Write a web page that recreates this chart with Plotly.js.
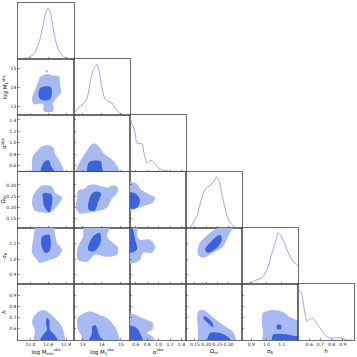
<!DOCTYPE html>
<html>
<head>
<meta charset="utf-8">
<script src="https://cdn.plot.ly/plotly-3.0.1.min.js"></script>
<style>
  html, body { margin: 0; padding: 0; background: #fff; }
  #plot { width: 357px; height: 357px; }
</style>
</head>
<body>
<div id="plot"></div>
<script>
// parameter labels, axis ranges and ticks
const paramLabels = ['log M<sub>min</sub><sup>obs</sup>', 'log M<sub>1</sub><sup>obs</sup>', 'α<sup>obs</sup>', 'Ω<sub>m</sub>', 'σ<sub>8</sub>', '<i>h</i>'];
const axisRanges = [[11.72, 12.98], [12.55, 15.47], [0.5, 1.48], [0.11, 0.36], [0.84, 1.205], [0.5, 1.0]];
const tickVals = [[12.0, 12.4, 12.8], [13, 14, 15], [0.6, 0.8, 1.0, 1.2, 1.4], [0.15, 0.20, 0.25, 0.30], [0.9, 1.0, 1.1], [0.6, 0.7, 0.8, 0.9]];
const tickFormats = ['.1f', 'd', '.1f', '.2f', '.1f', '.1f'];

// 1D marginal densities (normalised)
const diagX0 = [11.72, 11.83, 11.945, 12.06, 12.13, 12.21, 12.28, 12.34, 12.395, 12.43, 12.485, 12.545, 12.62, 12.71, 12.81, 12.96];
const diagY0 = [0, 0, 0.03, 0.09, 0.18, 0.38, 0.65, 0.89, 1.0, 0.96, 0.74, 0.44, 0.21, 0.08, 0.02, 0];
const diagX1 = [12.55, 12.76, 13.02, 13.23, 13.38, 13.54, 13.75, 13.85, 14.01, 14.17, 14.32, 14.53, 14.69, 14.95, 15.21, 15.36];
const diagY1 = [0.03, 0.14, 0.22, 0.34, 0.62, 0.88, 1.0, 0.88, 0.54, 0.32, 0.28, 0.24, 0.14, 0.04, 0, 0];
const diagX2 = [0.5, 0.535, 0.59, 0.62, 0.71, 0.745, 0.80, 0.85, 0.885, 0.94, 1.025, 1.15, 1.25, 1.48];
const diagY2 = [1.04, 0.94, 0.76, 0.56, 0.54, 0.36, 0.17, 0.21, 0.21, 0.15, 0.05, 0.01, 0, 0];
const diagX3 = [0.128, 0.158, 0.18, 0.195, 0.214, 0.232, 0.247, 0.257, 0.269, 0.284, 0.303, 0.329];
const diagY3 = [0, 0.22, 0.58, 0.75, 0.82, 0.89, 0.99, 0.93, 0.68, 0.39, 0.12, 0.01];
const diagX4 = [0.84, 0.892, 0.938, 0.97, 1.003, 1.036, 1.062, 1.075, 1.101, 1.133, 1.166, 1.199, 1.205];
const diagY4 = [0, 0.02, 0.08, 0.12, 0.28, 0.61, 0.86, 1.0, 0.90, 0.67, 0.47, 0.37, 0.35];
const diagX5 = [0.5, 0.527, 0.545, 0.5625, 0.58, 0.607, 0.634, 0.661, 0.696, 0.741, 0.786, 0.848, 0.893, 0.938, 0.982];
const diagY5 = [1.0, 0.94, 0.75, 0.53, 0.37, 0.41, 0.43, 0.35, 0.24, 0.10, 0.04, 0.04, 0.04, 0, 0];

// 2D credible regions, [x, y] outline points (outer = 95%, inner = 68%)
const m1_mmin_outer = [[12.215, 14.53], [12.35, 14.69], [12.485, 14.64], [12.64, 14.58], [12.665, 14.17], [12.69, 13.75], [12.60, 13.49], [12.51, 13.18], [12.51, 12.76], [12.305, 12.76], [12.28, 13.13], [12.08, 13.13], [12.035, 13.44], [12.10, 13.85], [12.17, 14.27]];
const m1_mmin_inner = [[12.215, 13.96], [12.37, 14.06], [12.46, 14.01], [12.485, 13.70], [12.44, 13.39], [12.28, 13.33], [12.19, 13.49]];

const al_mmin_outer = [[12.08, 0.43], [12.035, 0.64], [12.06, 0.78], [12.17, 0.87], [12.26, 0.94], [12.44, 0.955], [12.53, 0.90], [12.55, 0.815], [12.62, 0.73], [12.71, 0.605], [12.755, 0.43]];
const al_mmin_inner = [[12.24, 0.43], [12.26, 0.605], [12.35, 0.69], [12.42, 0.69], [12.46, 0.605], [12.575, 0.43]];

const om_mmin_outer = [[12.26, 0.298], [12.485, 0.293], [12.55, 0.266], [12.71, 0.244], [12.665, 0.222], [12.55, 0.195], [12.44, 0.177], [12.28, 0.177], [12.10, 0.186], [12.035, 0.217], [12.06, 0.253], [12.17, 0.284]];
const om_mmin_inner = [[12.28, 0.262], [12.44, 0.262], [12.485, 0.253], [12.485, 0.217], [12.42, 0.177], [12.37, 0.186], [12.305, 0.208], [12.28, 0.24]];

const s8_mmin_outer = [[12.15, 1.225], [12.51, 1.225], [12.55, 1.172], [12.60, 1.107], [12.71, 1.062], [12.62, 1.016], [12.44, 0.996], [12.33, 0.983], [12.19, 0.977], [12.15, 0.996], [12.035, 1.042], [12.06, 1.127]];
const s8_mmin_inner = [[12.26, 1.146], [12.42, 1.159], [12.46, 1.107], [12.42, 1.049], [12.33, 1.042], [12.26, 1.075], [12.24, 1.114]];

const h_mmin_outer = [[12.035, 0.652], [12.06, 0.696], [12.17, 0.75], [12.28, 0.768], [12.395, 0.75], [12.55, 0.696], [12.71, 0.616], [12.755, 0.455], [12.08, 0.455], [12.10, 0.589]];
const h_mmin_inner = [[12.37, 0.696], [12.42, 0.679], [12.44, 0.589], [12.55, 0.545], [12.64, 0.455], [12.19, 0.455], [12.28, 0.545], [12.37, 0.589], [12.35, 0.652]];

const al_m1_outer = [[12.60, 0.43], [12.76, 0.605], [13.12, 0.815], [13.54, 0.99], [13.80, 0.955], [14.06, 0.83], [14.58, 0.69], [14.84, 0.57], [14.95, 0.43]];
const al_m1_inner = [[13.28, 0.43], [13.33, 0.66], [13.75, 0.69], [13.96, 0.675], [14.01, 0.57], [14.06, 0.43]];

const om_m1_outer = [[12.71, 0.24], [12.76, 0.275], [13.12, 0.284], [13.28, 0.298], [13.64, 0.302], [14.01, 0.293], [14.27, 0.289], [14.58, 0.298], [14.84, 0.289], [14.79, 0.262], [14.53, 0.24], [14.27, 0.199], [13.90, 0.186], [13.38, 0.177], [12.86, 0.173], [12.65, 0.195]];
const om_m1_inner = [[13.38, 0.244], [13.54, 0.266], [13.80, 0.271], [13.96, 0.262], [13.80, 0.222], [13.64, 0.186], [13.38, 0.186], [13.28, 0.199]];

const s8_m1_outer = [[13.12, 1.225], [14.43, 1.225], [14.27, 1.146], [14.58, 1.107], [14.84, 1.075], [14.79, 1.029], [14.17, 1.016], [13.64, 1.029], [13.23, 0.983], [12.76, 0.996], [12.71, 1.062], [12.86, 1.107], [13.02, 1.146]];
const s8_m1_inner = [[13.28, 1.062], [13.38, 1.114], [13.64, 1.159], [13.90, 1.172], [13.96, 1.127], [13.80, 1.075], [13.54, 1.049]];

const h_m1_outer = [[12.71, 0.679], [12.76, 0.705], [13.23, 0.75], [13.54, 0.75], [13.90, 0.723], [14.27, 0.696], [14.69, 0.616], [14.84, 0.562], [14.89, 0.455], [12.86, 0.455], [12.97, 0.527], [12.76, 0.589]];
const h_m1_inner = [[13.49, 0.616], [13.64, 0.634], [13.75, 0.607], [13.90, 0.527], [14.43, 0.455], [13.28, 0.455], [13.49, 0.562]];

const om_al_outer = [[0.43, 0.311], [0.62, 0.306], [0.675, 0.284], [0.80, 0.262], [0.94, 0.244], [0.90, 0.222], [0.76, 0.208], [0.64, 0.199], [0.52, 0.186], [0.43, 0.186]];
const om_al_inner = [[0.43, 0.266], [0.59, 0.262], [0.675, 0.235], [0.62, 0.199], [0.43, 0.199]];

const s8_al_outer = [[0.43, 1.225], [0.64, 1.225], [0.62, 1.159], [0.675, 1.127], [0.85, 1.127], [0.94, 1.081], [0.885, 1.042], [0.73, 1.042], [0.675, 0.996], [0.59, 0.977], [0.43, 0.977]];
const s8_al_inner = [[0.43, 1.22], [0.52, 1.22], [0.59, 1.127], [0.62, 1.062], [0.43, 1.042]];

const h_al_outer = [[0.43, 0.723], [0.55, 0.732], [0.675, 0.705], [0.80, 0.679], [0.90, 0.652], [0.90, 0.598], [0.80, 0.562], [0.90, 0.527], [0.94, 0.455], [0.43, 0.455]];
const h_al_inner = [[0.43, 0.625], [0.59, 0.616], [0.675, 0.562], [0.73, 0.455], [0.43, 0.455]];

const s8_om_outer = [[0.1635, 1.075], [0.172, 1.107], [0.217, 1.172], [0.253, 1.205], [0.284, 1.225], [0.324, 1.225], [0.297, 1.146], [0.275, 1.081], [0.23, 1.042], [0.186, 1.009], [0.1635, 1.029]];
const s8_om_inner = [[0.195, 1.062], [0.23, 1.127], [0.262, 1.159], [0.27, 1.127], [0.248, 1.075], [0.208, 1.042]];

const h_om_outer = [[0.1635, 0.75], [0.186, 0.768], [0.23, 0.705], [0.275, 0.634], [0.32, 0.571], [0.333, 0.455], [0.172, 0.455], [0.1635, 0.589]];
const h_om_innerA = [[0.19, 0.714], [0.208, 0.696], [0.23, 0.643], [0.23, 0.616], [0.2125, 0.643], [0.19, 0.687]];
const h_om_innerB = [[0.208, 0.455], [0.217, 0.562], [0.262, 0.562], [0.297, 0.527], [0.32, 0.455]];

const h_s8_outer = [[0.97, 0.652], [0.977, 0.741], [1.042, 0.768], [1.107, 0.75], [1.153, 0.705], [1.199, 0.679], [1.23, 0.679], [1.23, 0.455], [0.977, 0.455], [0.977, 0.562]];
const h_s8_innerA = [[1.068, 0.634], [1.094, 0.634], [1.094, 0.598], [1.068, 0.598]];
const h_s8_innerB = [[1.042, 0.455], [1.042, 0.545], [1.107, 0.554], [1.186, 0.536], [1.23, 0.527], [1.23, 0.455]];

// isolated small islands: [row, col, x, y, level]
const islands = [[1, 0, 12.37, 14.84, 'outer'], [2, 0, 12.215, 0.306, 'outer'], [3, 1, 14.01, 0.931, 'outer'], [4, 1, 13.64, 0.84, 'outer'], [4, 2, 0.675, 0.634, 'inner'], [4, 3, 0.181, 0.84, 'outer']];

const diagX = [diagX0, diagX1, diagX2, diagX3, diagX4, diagX5];
const diagY = [diagY0, diagY1, diagY2, diagY3, diagY4, diagY5];

const regions = [
    { row: 1, col: 0, outer: [m1_mmin_outer], inner: [m1_mmin_inner] },
    { row: 2, col: 0, outer: [al_mmin_outer], inner: [al_mmin_inner] },
    { row: 3, col: 0, outer: [om_mmin_outer], inner: [om_mmin_inner] },
    { row: 4, col: 0, outer: [s8_mmin_outer], inner: [s8_mmin_inner] },
    { row: 5, col: 0, outer: [h_mmin_outer], inner: [h_mmin_inner] },
    { row: 2, col: 1, outer: [al_m1_outer], inner: [al_m1_inner] },
    { row: 3, col: 1, outer: [om_m1_outer], inner: [om_m1_inner] },
    { row: 4, col: 1, outer: [s8_m1_outer], inner: [s8_m1_inner] },
    { row: 5, col: 1, outer: [h_m1_outer], inner: [h_m1_inner] },
    { row: 3, col: 2, outer: [om_al_outer], inner: [om_al_inner] },
    { row: 4, col: 2, outer: [s8_al_outer], inner: [s8_al_inner] },
    { row: 5, col: 2, outer: [h_al_outer], inner: [h_al_inner] },
    { row: 4, col: 3, outer: [s8_om_outer], inner: [s8_om_inner] },
    { row: 5, col: 3, outer: [h_om_outer], inner: [h_om_innerA, h_om_innerB] },
    { row: 5, col: 4, outer: [h_s8_outer], inner: [h_s8_innerA, h_s8_innerB] }
];

const outerColor = 'rgb(168,186,242)';
const innerColor = 'rgb(60,98,222)';
const lineColor = 'rgb(122,150,238)';
const frameColor = '#4a4a4a';

const n = 6;
const axisIndex = {};
let count = 0;
for (let i = 0; i < n; i++) {
    for (let j = 0; j <= i; j++) {
        count++;
        axisIndex[i + '_' + j] = count;
    }
}
const axName = (k, letter) => letter + (k === 1 ? '' : k);

const traces = [];

function polyTrace(points, k, color) {
    const pts = points.concat([points[0]]);
    return {
        type: 'scatter',
        x: pts.map(p => p[0]),
        y: pts.map(p => p[1]),
        xaxis: axName(k, 'x'),
        yaxis: axName(k, 'y'),
        mode: 'lines',
        fill: 'toself',
        fillcolor: color,
        line: { width: 0, color: color, shape: 'spline', smoothing: 0.9 },
        hoverinfo: 'skip',
        showlegend: false
    };
}

regions.forEach(reg => {
    const k = axisIndex[reg.row + '_' + reg.col];
    reg.outer.forEach(p => traces.push(polyTrace(p, k, outerColor)));
    reg.inner.forEach(p => traces.push(polyTrace(p, k, innerColor)));
});

islands.forEach(d => {
    const k = axisIndex[d[0] + '_' + d[1]];
    traces.push({
        type: 'scatter', x: [d[2]], y: [d[3]],
        xaxis: axName(k, 'x'), yaxis: axName(k, 'y'),
        mode: 'markers',
        marker: { size: 2.5, color: d[4] === 'outer' ? outerColor : innerColor },
        hoverinfo: 'skip', showlegend: false
    });
});

for (let i = 0; i < n; i++) {
    const k = axisIndex[i + '_' + i];
    traces.push({
        type: 'scatter', x: diagX[i], y: diagY[i],
        xaxis: axName(k, 'x'), yaxis: axName(k, 'y'),
        mode: 'lines',
        line: { color: lineColor, width: 0.8, shape: 'spline', smoothing: 0.8 },
        hoverinfo: 'skip', showlegend: false
    });
}

const tickFont = { family: 'DejaVu Sans', size: 4.5, color: '#222' };
const titleFont = { family: 'DejaVu Sans', size: 5.5, color: '#111' };

const layout = {
    width: 357,
    height: 357,
    margin: { l: 18, r: 3, t: 3, b: 17 },
    paper_bgcolor: '#ffffff',
    plot_bgcolor: '#ffffff',
    showlegend: false
};

function baseAxis() {
    return {
        showline: true, mirror: true, linecolor: frameColor, linewidth: 0.8,
        ticks: 'inside', ticklen: 2, tickwidth: 0.6, tickcolor: frameColor,
        showgrid: false, zeroline: false, fixedrange: true,
        tickfont: tickFont, tickangle: 0, automargin: false
    };
}

for (let i = 0; i < n; i++) {
    for (let j = 0; j <= i; j++) {
        const k = axisIndex[i + '_' + j];
        const xa = baseAxis();
        xa.domain = [j / n, (j + 1) / n];
        xa.range = axisRanges[j];
        xa.tickvals = tickVals[j];
        xa.tickformat = tickFormats[j];
        xa.anchor = axName(k, 'y');
        xa.showticklabels = i === n - 1;
        if (i === n - 1) {
            xa.title = { text: paramLabels[j], font: titleFont, standoff: 2 };
        }
        const ya = baseAxis();
        ya.domain = [1 - (i + 1) / n, 1 - i / n];
        ya.anchor = axName(k, 'x');
        if (i === j) {
            ya.range = [0, 1.1];
            ya.ticks = '';
            ya.showticklabels = false;
        } else {
            ya.range = axisRanges[i];
            ya.tickvals = tickVals[i];
            ya.tickformat = tickFormats[i];
            ya.showticklabels = j === 0;
            if (j === 0) {
                ya.title = { text: paramLabels[i], font: titleFont, standoff: 2 };
            }
        }
        layout[axName(k, 'xaxis')] = xa;
        layout[axName(k, 'yaxis')] = ya;
    }
}

Plotly.newPlot('plot', traces, layout, { displayModeBar: false, staticPlot: true });
</script>
</body>
</html>
